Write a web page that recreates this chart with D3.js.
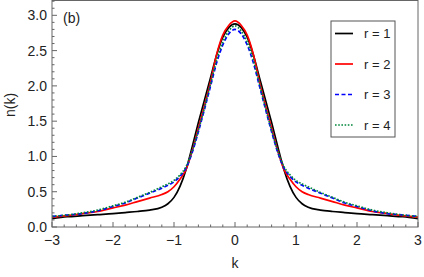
<!DOCTYPE html>
<html lang="en">
<head>
<meta charset="UTF-8">
<title>n(k)</title>
<script src="https://d3js.org/d3.v7.min.js"></script>
<style>
  body { margin: 0; background: #fff; }
  svg { display: block; font-family: "Liberation Sans", Arial, sans-serif; }
  .tick-label { font-size: 14px; fill: #222; }
</style>
</head>
<body>
<svg width="424" height="277"></svg>
<script>
// momentum grid
const kValues = [-3, -2.75, -2.5, -2.25, -2, -1.8, -1.6, -1.4, -1.2, -1.1, -1, -0.9, -0.8, -0.7, -0.6, -0.5, -0.4, -0.3, -0.2, -0.1,
                 0, 0.1, 0.2, 0.3, 0.4, 0.5, 0.6, 0.7, 0.8, 0.9, 1, 1.1, 1.2, 1.4, 1.6, 1.8, 2, 2.25, 2.5, 2.75, 3];

const nR1 = [0.12, 0.145, 0.16, 0.175, 0.19, 0.205, 0.22, 0.24, 0.28, 0.33, 0.42, 0.58, 0.82, 1.14, 1.48, 1.80, 2.12, 2.44, 2.69, 2.83,
             2.88, 2.83, 2.69, 2.44, 2.12, 1.80, 1.48, 1.14, 0.82, 0.58, 0.42, 0.33, 0.28, 0.24, 0.22, 0.205, 0.19, 0.175, 0.16, 0.145, 0.12];
const nR2 = [0.14, 0.16, 0.19, 0.22, 0.27, 0.31, 0.36, 0.41, 0.46, 0.50, 0.57, 0.68, 0.82, 1.08, 1.40, 1.72, 2.06, 2.45, 2.72, 2.86,
             2.92, 2.86, 2.72, 2.45, 2.06, 1.72, 1.40, 1.08, 0.82, 0.68, 0.57, 0.50, 0.46, 0.41, 0.36, 0.31, 0.27, 0.22, 0.19, 0.16, 0.14];
const nR3 = [0.15, 0.17, 0.19, 0.23, 0.29, 0.34, 0.41, 0.48, 0.55, 0.59, 0.64, 0.72, 0.84, 1.06, 1.35, 1.67, 2.00, 2.33, 2.58, 2.74,
             2.80, 2.74, 2.58, 2.33, 2.00, 1.67, 1.35, 1.06, 0.84, 0.72, 0.64, 0.59, 0.55, 0.48, 0.41, 0.34, 0.29, 0.23, 0.19, 0.17, 0.15];
const nR4 = [0.15, 0.17, 0.20, 0.24, 0.30, 0.35, 0.42, 0.49, 0.57, 0.61, 0.66, 0.74, 0.86, 1.08, 1.37, 1.69, 2.03, 2.37, 2.62, 2.78,
             2.85, 2.78, 2.62, 2.37, 2.03, 1.69, 1.37, 1.08, 0.86, 0.74, 0.66, 0.61, 0.57, 0.49, 0.42, 0.35, 0.30, 0.24, 0.20, 0.17, 0.15];

const seriesLabels = ["r = 1", "r = 2", "r = 3", "r = 4"];
const xTicks = [-3, -2, -1, 0, 1, 2, 3];
const yTicks = [0, 0.5, 1, 1.5, 2, 2.5, 3];

const series = [
    { label: seriesLabels[0], values: nR1, color: "#000000", dash: null },
    { label: seriesLabels[1], values: nR2, color: "#ff0000", dash: null },
    { label: seriesLabels[2], values: nR3, color: "#0000ff", dash: "4,2.5" },
    { label: seriesLabels[3], values: nR4, color: "#00873c", dash: "1.6,1.6" }
];

const svg = d3.select("svg");
const plotLeft = 52, plotRight = 418, plotTop = 0.5, plotBottom = 227;

const xScale = d3.scaleLinear().domain([-3, 3]).range([plotLeft, plotRight]);
const yScale = d3.scaleLinear().domain([0, 3.21]).range([plotBottom, plotTop]);

// curves
const line = d3.line()
    .x(function(d) { return xScale(d[0]); })
    .y(function(d) { return yScale(d[1]); })
    .curve(d3.curveMonotoneX);

series.forEach(function(s) {
    svg.append("path")
        .datum(kValues.map(function(k, i) { return [k, s.values[i]]; }))
        .attr("d", line)
        .attr("fill", "none")
        .attr("stroke", s.color)
        .attr("stroke-width", 1.7)
        .attr("stroke-dasharray", s.dash);
});

// frame
svg.append("rect")
    .attr("x", plotLeft)
    .attr("y", plotTop)
    .attr("width", plotRight - plotLeft)
    .attr("height", plotBottom - plotTop)
    .attr("fill", "none")
    .attr("stroke", "#666")
    .attr("stroke-width", 1);

// ticks point inward, bottom and left only
const xMinor = d3.range(-3, 3.001, 0.2);
svg.selectAll(".xminor")
    .data(xMinor)
    .enter()
    .append("line")
    .attr("x1", function(d) { return xScale(d); })
    .attr("x2", function(d) { return xScale(d); })
    .attr("y1", plotBottom)
    .attr("y2", function(d) { return Math.abs(d - Math.round(d)) < 1e-6 ? plotBottom - 5 : plotBottom - 2.5; })
    .attr("stroke", "#666")
    .attr("stroke-width", 1);

const yMinor = d3.range(0, 3.201, 0.1);
svg.selectAll(".yminor")
    .data(yMinor)
    .enter()
    .append("line")
    .attr("y1", function(d) { return yScale(d); })
    .attr("y2", function(d) { return yScale(d); })
    .attr("x1", plotLeft)
    .attr("x2", function(d) { return Math.abs(d * 2 - Math.round(d * 2)) < 1e-6 ? plotLeft + 5 : plotLeft + 2.5; })
    .attr("stroke", "#666")
    .attr("stroke-width", 1);

svg.selectAll(".xlabel")
    .data(xTicks)
    .enter()
    .append("text")
    .attr("class", "tick-label")
    .attr("x", function(d) { return xScale(d); })
    .attr("y", plotBottom + 18)
    .attr("text-anchor", "middle")
    .text(function(d) { return d < 0 ? "\u2212" + Math.abs(d) : d; });

svg.selectAll(".ylabel")
    .data(yTicks)
    .enter()
    .append("text")
    .attr("class", "tick-label")
    .attr("x", plotLeft - 5)
    .attr("y", function(d) { return yScale(d) + 5; })
    .attr("text-anchor", "end")
    .text(function(d) { return d.toFixed(1); });

// axis titles
svg.append("text")
    .attr("class", "tick-label")
    .attr("x", xScale(0))
    .attr("y", 268)
    .attr("text-anchor", "middle")
    .text("k");

svg.append("text")
    .attr("class", "tick-label")
    .attr("transform", "translate(15,105) rotate(-90)")
    .attr("text-anchor", "middle")
    .text("n(k)");

svg.append("text")
    .attr("class", "tick-label")
    .attr("x", 63)
    .attr("y", 23)
    .text("(b)");

// legend
const legendX = 331, legendY = 21, legendW = 64, legendH = 116;
svg.append("rect")
    .attr("x", legendX)
    .attr("y", legendY)
    .attr("width", legendW)
    .attr("height", legendH)
    .attr("fill", "white")
    .attr("stroke", "#555")
    .attr("stroke-width", 1);

series.forEach(function(s, i) {
    const cy = legendY + 12.5 + i * 30.5;
    svg.append("line")
        .attr("x1", legendX + 4)
        .attr("x2", legendX + 22)
        .attr("y1", cy)
        .attr("y2", cy)
        .attr("stroke", s.color)
        .attr("stroke-width", 1.7)
        .attr("stroke-dasharray", s.dash);
    svg.append("text")
        .attr("x", legendX + 33)
        .attr("y", cy + 4.5)
        .attr("font-size", 13)
        .attr("fill", "#222")
        .text(s.label);
});
</script>
</body>
</html>
